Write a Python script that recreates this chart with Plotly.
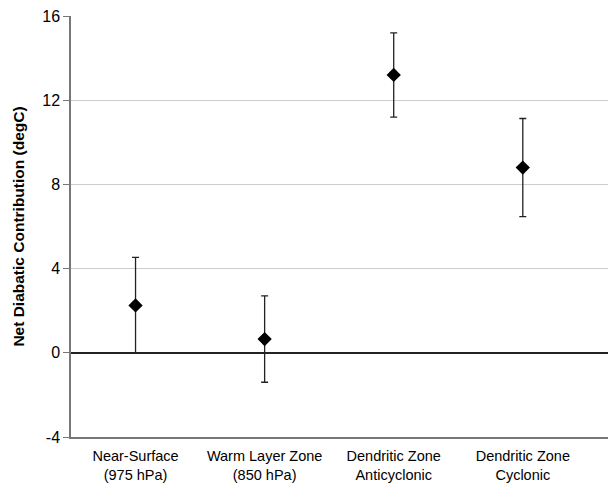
import plotly.graph_objects as go

categories = ["Near-Surface<br>(975 hPa)", "Warm Layer Zone<br>(850 hPa)",
              "Dendritic Zone<br>Anticyclonic", "Dendritic Zone<br>Cyclonic"]
values = [2.25, 0.65, 13.2, 8.8]
err_plus = [2.28, 2.05, 2.0, 2.33]
err_minus = [2.25, 2.05, 2.0, 2.33]
y_ticks = [-4, 0, 4, 8, 12, 16]
y_tick_labels = ["-4", "0", "4", "8", "12", "16"]

xpos = list(range(len(categories)))

fig = go.Figure()
fig.add_trace(go.Scatter(
    x=xpos, y=values, mode="markers",
    marker=dict(symbol="diamond", size=11, color="black"),
    error_y=dict(type="data", symmetric=False, array=err_plus, arrayminus=err_minus,
                 color="#222222", thickness=1.3, width=3.5),
    showlegend=False,
    hoverinfo="skip",
))

fig.update_layout(
    width=608, height=486,
    margin=dict(l=71, r=0, t=16, b=49),
    paper_bgcolor="white", plot_bgcolor="white",
    font=dict(family="Liberation Sans, Arial, sans-serif", color="black", size=14),
    xaxis=dict(
        range=[-0.5, 3.66], tickmode="array", tickvals=xpos, ticktext=categories,
        showgrid=False, zeroline=False, showline=True, linecolor="#777777", linewidth=1.5,
        ticks="", tickfont=dict(size=14.5), ticklabelstandoff=5,
    ),
    yaxis=dict(
        range=[-4, 16], tickmode="array", tickvals=y_ticks, ticktext=y_tick_labels,
        showgrid=True, gridcolor="#cccccc", gridwidth=1,
        zeroline=True, zerolinecolor="#222222", zerolinewidth=1.5,
        showline=True, linecolor="#777777", linewidth=1.5,
        ticks="outside", ticklen=6, tickcolor="#777777", tickfont=dict(size=16),
        title=dict(text="<b>Net Diabatic Contribution (degC)</b>", font=dict(size=15.5), standoff=14),
    ),
)

fig.write_html(
    "out.html",
    config={"displayModeBar": False},
    post_script="document.body.style.margin='0px';document.body.style.overflow='hidden';",
)
